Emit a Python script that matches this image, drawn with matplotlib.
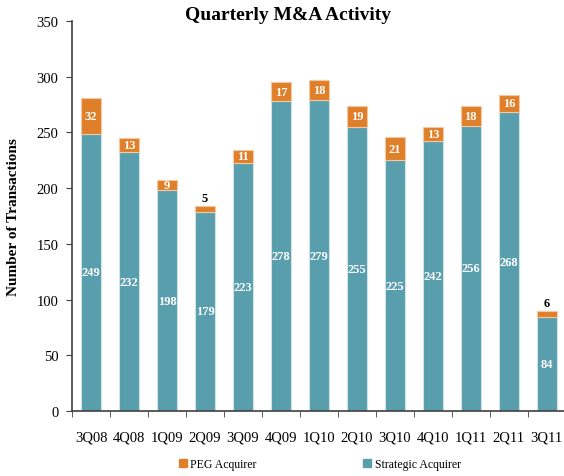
import numpy as np
import matplotlib.pyplot as plt
from matplotlib.patches import Patch

plt.rcParams['font.family'] = ['Liberation Serif', 'DejaVu Serif']

quarters = ['3Q08', '4Q08', '1Q09', '2Q09', '3Q09', '4Q09', '1Q10',
            '2Q10', '3Q10', '4Q10', '1Q11', '2Q11', '3Q11']
strategic = [249, 232, 198, 179, 223, 278, 279, 255, 225, 242, 256, 268, 84]
peg = [32, 13, 9, 5, 11, 17, 18, 19, 21, 13, 18, 16, 6]

teal = '#589eac'
orange = '#e07f2a'

fig = plt.figure(figsize=(5.64, 4.77), dpi=100)
ax = fig.add_axes([0.128, 0.136, 0.875, 0.818])

x = np.arange(len(quarters))
w = 0.53
ax.bar(x, strategic, w, color=teal, edgecolor='#cfe3e8', linewidth=0.8)
ax.bar(x, peg, w, bottom=strategic, color=orange, edgecolor='#f3c9a4', linewidth=0.8)

for i in range(len(x)):
    s = strategic[i]
    p = peg[i]
    ax.text(x[i], s / 2, str(s), ha='center', va='center', color='white',
            fontsize=9, fontweight='bold')
    if p >= 8:
        ax.text(x[i], s + p / 2, str(p), ha='center', va='center', color='white',
                fontsize=9, fontweight='bold')
    else:
        # too thin to hold a label, put it on top
        ax.text(x[i], s + p + 2, str(p), ha='center', va='bottom', color='black',
                fontsize=9, fontweight='bold')

ax.set_xlim(-0.5, len(x) - 0.5)
ax.set_ylim(0, 350)
ax.set_yticks(np.arange(0, 351, 50))
ax.set_xticks(x)
ax.set_xticklabels(quarters)
ax.set_xticks(np.arange(-0.5, len(x), 1), minor=True)
ax.tick_params(axis='x', which='major', length=0, pad=14, labelsize=10.5)
ax.tick_params(axis='x', which='minor', length=4, direction='out', color='#404040')
ax.tick_params(axis='y', length=4, direction='out', labelsize=10.5, color='#404040', pad=6)

for side in ['top', 'right']:
    ax.spines[side].set_visible(False)
for side in ['left', 'bottom']:
    ax.spines[side].set_color('#404040')
    ax.spines[side].set_linewidth(1.2)

ax.set_ylabel('Number of Transactions', fontsize=11, fontweight='bold', labelpad=12)
fig.text(0.51, 0.968, 'Quarterly M&A Activity', ha='center', va='center',
         fontsize=14, fontweight='bold')

handles = [Patch(color=orange, label='PEG Acquirer'),
           Patch(color=teal, label='Strategic Acquirer')]
fig.legend(handles=handles, loc='center', bbox_to_anchor=(0.567, 0.025), ncol=2,
           frameon=False, fontsize=8.5, handlelength=0.7, handleheight=0.7,
           handletextpad=0.3, columnspacing=9.0)

fig.savefig('out.png', dpi=100)
